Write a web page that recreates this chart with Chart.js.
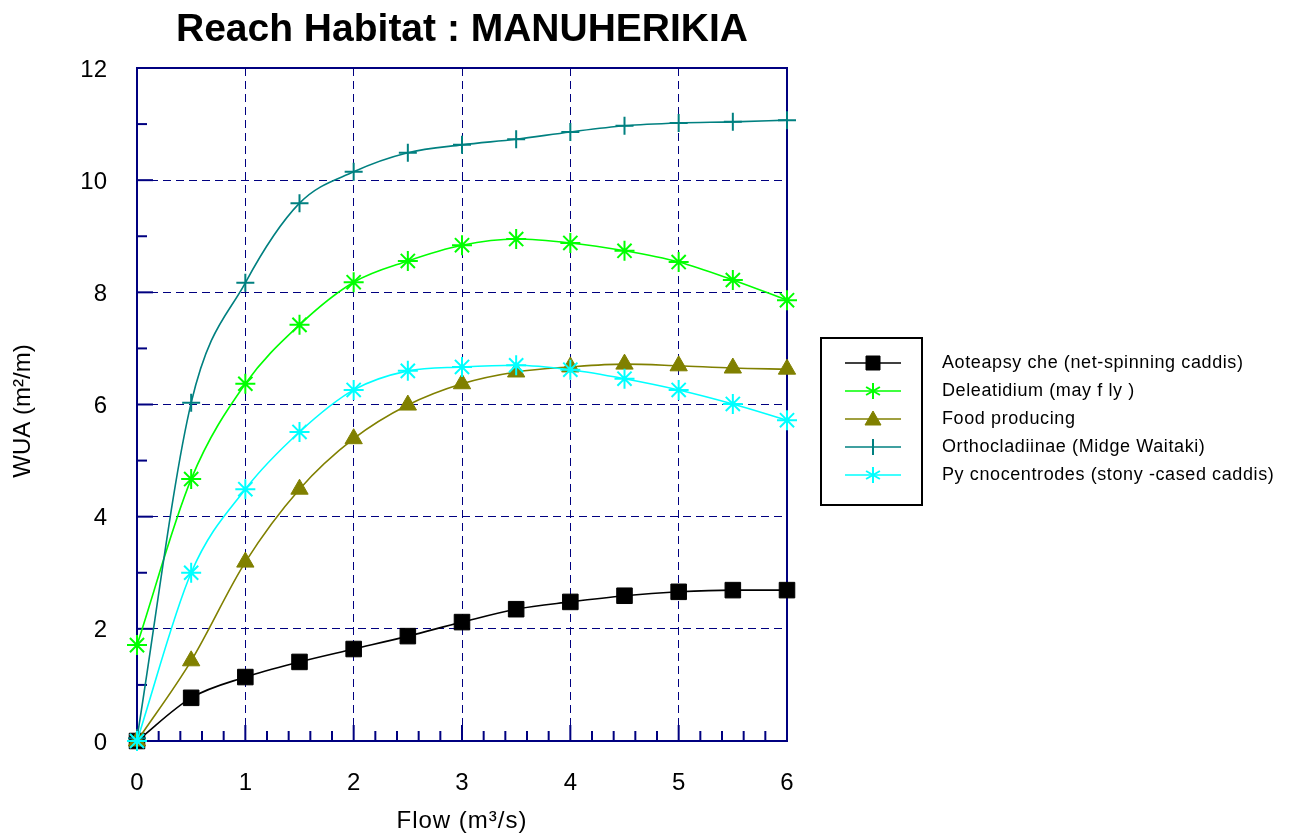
<!DOCTYPE html>
<html>
<head>
<meta charset="utf-8">
<script src="https://cdn.jsdelivr.net/npm/chart.js"></script>
<style>
  html, body { margin: 0; padding: 0; background: #fff; }
  #wrap { width: 1293px; height: 835px; }
</style>
</head>
<body>
<div id="wrap"><canvas id="myChart" width="1293" height="835"></canvas></div>
<script>
// flow values (m3/s) where the markers sit
const flow = [0, 0.5, 1, 1.5, 2, 2.5, 3, 3.5, 4, 4.5, 5, 5.5, 6];

// WUA (m2/m)
const aoteapsyche = [0, 0.77, 1.14, 1.41, 1.64, 1.87, 2.12, 2.35, 2.48, 2.59, 2.66, 2.69, 2.69];
const deleatidium = [1.71, 4.67, 6.37, 7.42, 8.18, 8.56, 8.84, 8.95, 8.88, 8.74, 8.54, 8.22, 7.86];
const foodProducing = [0, 1.43, 3.19, 4.49, 5.39, 5.99, 6.37, 6.58, 6.67, 6.72, 6.69, 6.65, 6.63];
const orthocladiinae = [0.05, 6.03, 8.17, 9.59, 10.15, 10.49, 10.63, 10.73, 10.86, 10.97, 11.02, 11.04, 11.07];
const pycnocentrodes = [0, 3.0, 4.49, 5.51, 6.26, 6.6, 6.67, 6.7, 6.62, 6.46, 6.26, 6.01, 5.72];

const yTicks = [0, 2, 4, 6, 8, 10, 12];
const xTicks = [0, 1, 2, 3, 4, 5, 6];

const seriesNames = [
  'Aoteapsy che (net-spinning caddis)',
  'Deleatidium (may f ly )',
  'Food producing',
  'Orthocladiinae (Midge Waitaki)',
  'Py cnocentrodes (stony -cased caddis)'
];

const navy = '#000080';
const fontFamily = '"Liberation Sans", Arial, sans-serif';

const toPoints = vals => vals.map((v, i) => ({ x: flow[i], y: v }));

const makeSet = (label, vals, color, style, radius, fill, order) => ({
  label: label,
  data: toPoints(vals),
  borderColor: color,
  backgroundColor: fill ? color : 'rgba(0,0,0,0)',
  borderWidth: 1.6,
  pointStyle: style,
  pointRadius: radius,
  pointHoverRadius: radius,
  pointBorderColor: color,
  pointBackgroundColor: fill ? color : 'rgba(0,0,0,0)',
  pointBorderWidth: fill ? 1 : 2,
  cubicInterpolationMode: 'monotone',
  clip: false,
  fill: false,
  order: order
});

// later series are drawn on top, as in the original
const datasets = [
  makeSet(seriesNames[0], aoteapsyche, '#000000', 'rect', 11, true, 5),
  makeSet(seriesNames[1], deleatidium, '#00ff00', 'star', 10, false, 4),
  makeSet(seriesNames[2], foodProducing, '#808000', 'triangle', 10, true, 3),
  makeSet(seriesNames[3], orthocladiinae, '#008080', 'cross', 9, false, 2),
  makeSet(seriesNames[4], pycnocentrodes, '#00ffff', 'star', 10, false, 1)
];

// frame and inward ticks, under the data
const frame = {
  id: 'frame',
  beforeDatasetsDraw(chart) {
    const ctx = chart.ctx;
    const a = chart.chartArea;
    const xs = chart.scales.x, ys = chart.scales.y;
    ctx.save();
    ctx.strokeStyle = navy;
    ctx.lineWidth = 2;
    ctx.strokeRect(a.left, a.top, a.right - a.left, a.bottom - a.top);
    for (let v = 1; v < 12; v++) {
      const y = ys.getPixelForValue(v);
      const len = v % 2 === 0 ? 16 : 10;
      ctx.beginPath(); ctx.moveTo(a.left, y); ctx.lineTo(a.left + len, y); ctx.stroke();
    }
    for (let k = 1; k < 30; k++) {
      const x = xs.getPixelForValue(k * 0.2);
      const len = k % 5 === 0 ? 16 : 10;
      ctx.beginPath(); ctx.moveTo(x, a.bottom); ctx.lineTo(x, a.bottom - len); ctx.stroke();
    }
    ctx.restore();
  }
};

// texts and legend
const decorations = {
  id: 'decorations',
  afterDraw(chart) {
    const ctx = chart.ctx;
    const a = chart.chartArea;
    const xs = chart.scales.x, ys = chart.scales.y;
    ctx.save();
    ctx.fillStyle = '#000';

    // tick labels
    ctx.font = '24px ' + fontFamily;
    ctx.textBaseline = 'middle';
    ctx.textAlign = 'right';
    yTicks.forEach(v => ctx.fillText(String(v), 107, ys.getPixelForValue(v) + 2));
    ctx.textAlign = 'center';
    xTicks.forEach(v => ctx.fillText(String(v), xs.getPixelForValue(v), 783));

    // title
    ctx.font = 'bold 39px ' + fontFamily;
    ctx.fillText('Reach Habitat : MANUHERIKIA', (a.left + a.right) / 2, 30);

    // axis titles
    ctx.font = '24px ' + fontFamily;
    ctx.letterSpacing = '1px';
    ctx.fillText('Flow (m\u00b3/s)', (a.left + a.right) / 2, 821);
    ctx.letterSpacing = '0px';
    ctx.save();
    ctx.translate(23, 411);
    ctx.rotate(-Math.PI / 2);
    ctx.fillText('WUA (m\u00b2/m)', 0, 0);
    ctx.restore();

    // legend (box holds only the symbols, names sit to its right)
    ctx.strokeStyle = '#000';
    ctx.lineWidth = 2;
    ctx.strokeRect(821, 338, 101, 167);
    ctx.font = '18px ' + fontFamily;
    ctx.letterSpacing = '0.6px';
    ctx.textAlign = 'left';
    chart.data.datasets.forEach((ds, i) => {
      const y = 363 + i * 28;
      const cx = 873;
      ctx.strokeStyle = ds.borderColor;
      ctx.lineWidth = 1.6;
      ctx.beginPath(); ctx.moveTo(845, y); ctx.lineTo(901, y); ctx.stroke();
      ctx.fillStyle = ds.pointBackgroundColor;
      ctx.strokeStyle = ds.pointBorderColor;
      ctx.lineWidth = ds.pointBorderWidth;
      const st = ds.pointStyle;
      ctx.beginPath();
      if (st === 'rect') {
        ctx.rect(cx - 7, y - 7, 14, 14); ctx.fill(); ctx.stroke();
      } else if (st === 'triangle') {
        ctx.moveTo(cx, y - 8); ctx.lineTo(cx + 8, y + 6); ctx.lineTo(cx - 8, y + 6);
        ctx.closePath(); ctx.fill(); ctx.stroke();
      } else if (st === 'cross') {
        ctx.moveTo(cx, y - 8); ctx.lineTo(cx, y + 8); ctx.stroke();
      } else {
        for (let k = 0; k < 3; k++) {
          const ang = Math.PI / 2 + k * Math.PI / 3;
          ctx.moveTo(cx + 8 * Math.cos(ang), y - 8 * Math.sin(ang));
          ctx.lineTo(cx - 8 * Math.cos(ang), y + 8 * Math.sin(ang));
        }
        ctx.stroke();
      }
      ctx.fillStyle = '#000';
      ctx.fillText(ds.label, 942, y);
    });

    ctx.restore();
  }
};

new Chart(document.getElementById('myChart').getContext('2d'), {
  type: 'line',
  data: { datasets: datasets },
  options: {
    responsive: false,
    animation: false,
    devicePixelRatio: 1,
    layout: { padding: { left: 0, right: 506, top: 68, bottom: 0 } },
    plugins: { legend: { display: false }, title: { display: false }, tooltip: { enabled: false } },
    scales: {
      x: {
        type: 'linear',
        min: 0, max: 6,
        afterFit: s => { s.height = 94; },
        afterBuildTicks: s => { s.ticks = xTicks.map(v => ({ value: v })); },
        ticks: { display: false },
        grid: {
          drawTicks: false,
          color: c => (c.tick && c.tick.value > 0 && c.tick.value < 6) ? navy : 'rgba(0,0,0,0)',
          lineWidth: 1
        },
        border: { display: false, dash: [8, 5] }
      },
      y: {
        min: 0, max: 12,
        afterFit: s => { s.width = 137; },
        afterBuildTicks: s => { s.ticks = yTicks.map(v => ({ value: v })); },
        ticks: { display: false },
        grid: {
          drawTicks: false,
          color: c => (c.tick && c.tick.value > 0 && c.tick.value < 12) ? navy : 'rgba(0,0,0,0)',
          lineWidth: 1
        },
        border: { display: false, dash: [8, 5] }
      }
    }
  },
  plugins: [frame, decorations]
});
</script>
</body>
</html>
